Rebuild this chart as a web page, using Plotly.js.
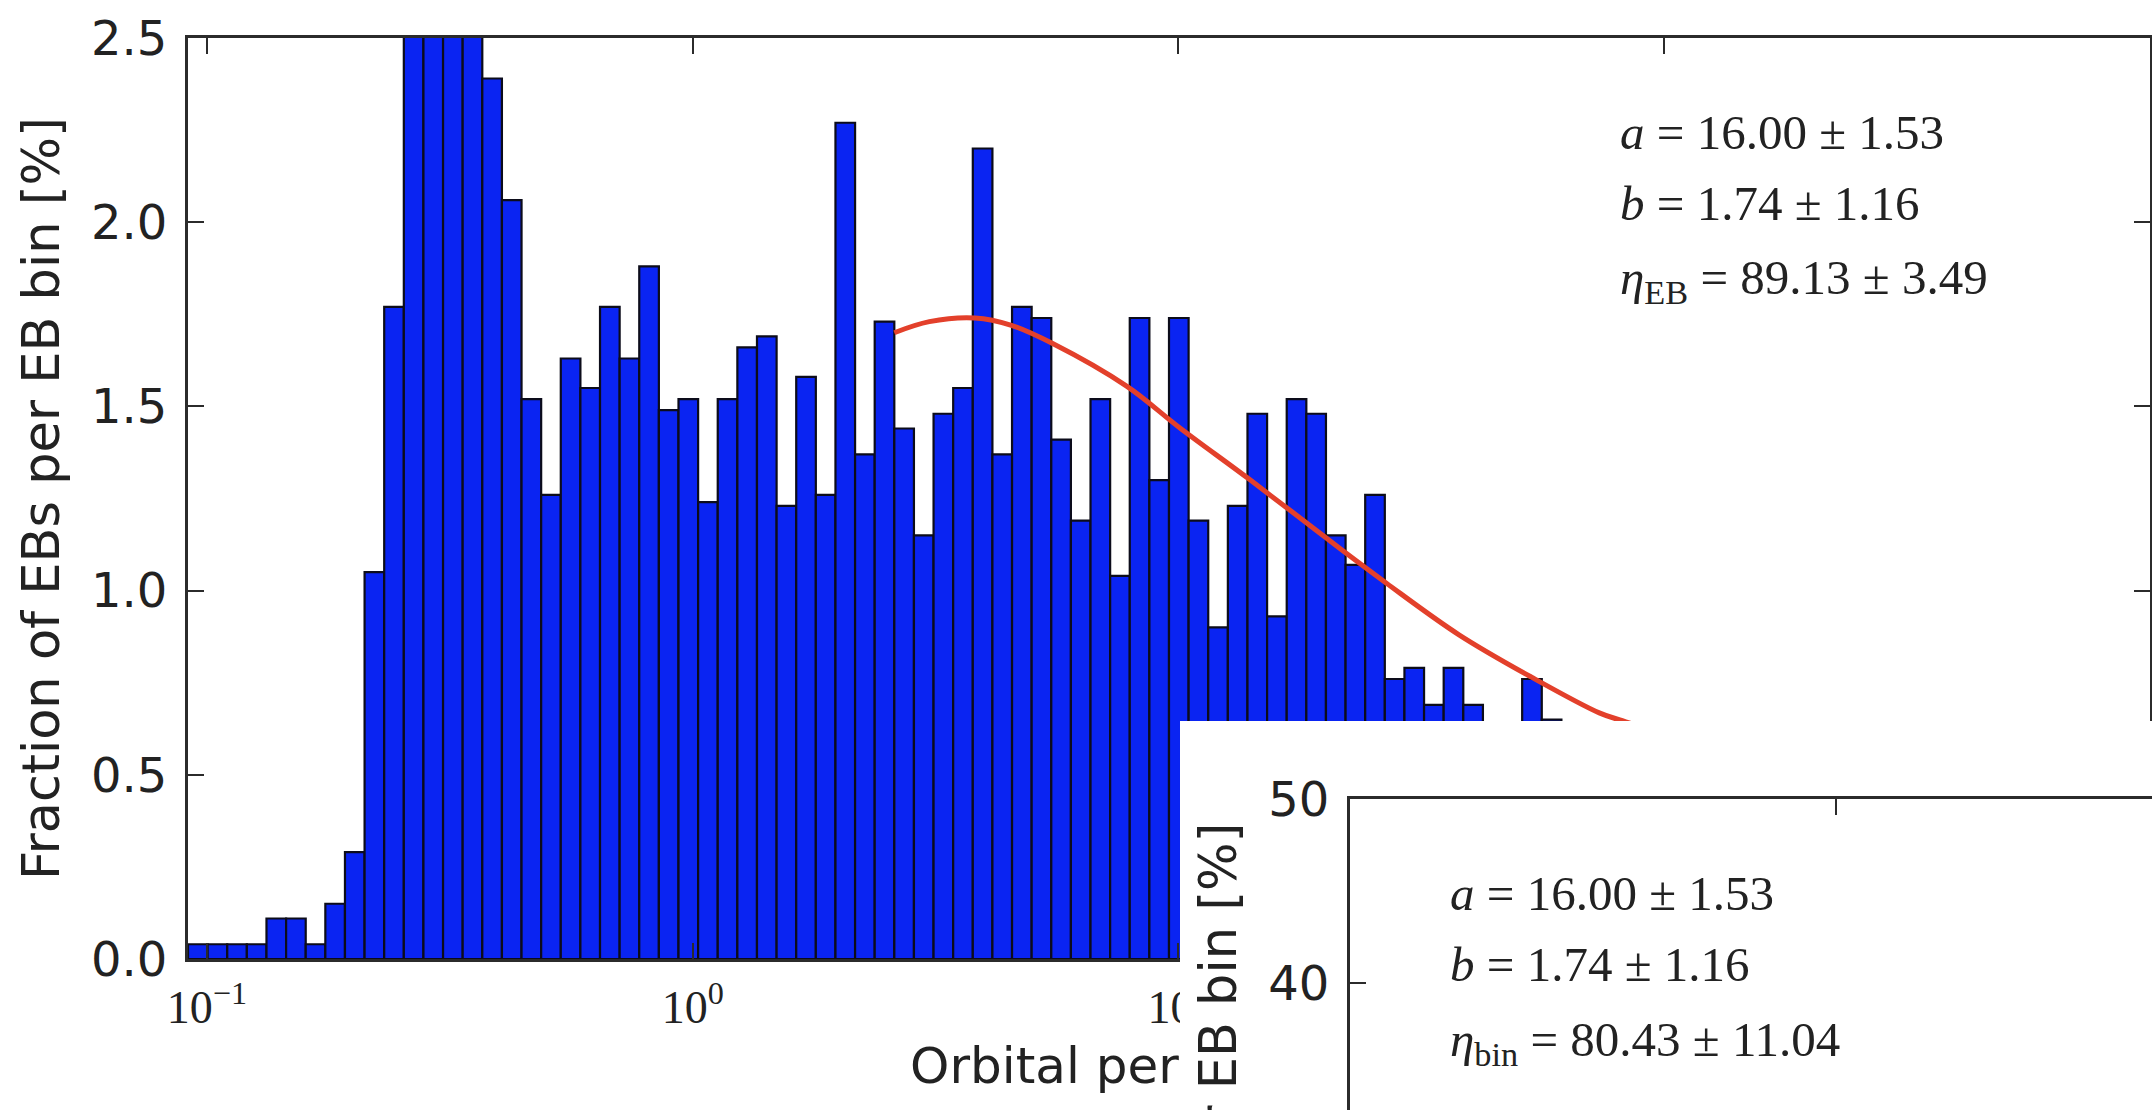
<!DOCTYPE html>
<html><head><meta charset="utf-8">
<script src="https://cdn.plot.ly/plotly-3.0.1.min.js"></script>
<style>
html,body{margin:0;padding:0;width:2152px;height:1110px;overflow:hidden;background:#fff;}
#main{position:absolute;left:0;top:0;width:2152px;height:1110px;}
#inset{position:absolute;left:1180px;top:721px;}
</style></head><body>
<div id="main"></div><div id="inset"></div>
<script>
// ---- data ----
const binCount = 100;
const periodMin = 0.0914;   // days
const periodMax = 1000;     // days
const fraction = [
  0.04, 0.04, 0.04, 0.04, 0.11, 0.11, 0.04, 0.15, 0.29, 1.05,
  1.77, 2.65, 2.75, 2.70, 2.60, 2.39, 2.06, 1.52, 1.26, 1.63,
  1.55, 1.77, 1.63, 1.88, 1.49, 1.52, 1.24, 1.52, 1.66, 1.69,
  1.23, 1.58, 1.26, 2.27, 1.37, 1.73, 1.44, 1.15, 1.48, 1.55,
  2.20, 1.37, 1.77, 1.74, 1.41, 1.19, 1.52, 1.04, 1.74, 1.30,
  1.74, 1.19, 0.90, 1.23, 1.48, 0.93, 1.52, 1.48, 1.15, 1.07,
  1.26, 0.76, 0.79, 0.69, 0.79, 0.69, 0.61, 0.57, 0.76, 0.65,
  0.46, 0.58, 0.38, 0.50, 0.31, 0.42, 0.27, 0.35, 0.23, 0.31,
  0.19, 0.23, 0.15, 0.19, 0.12, 0.15, 0.08, 0.12, 0.08, 0.04,
  0.08, 0.04, 0.04, 0.00, 0.04, 0.00, 0.04, 0.00, 0.00, 0.04
];
const fitPeriod   = [2.60, 3.07, 3.81, 4.53, 5.52, 7.82, 10.1, 14.06, 21.7, 26.8, 37.8, 53.3, 73.5, 81.0, 100, 130];
const fitFraction = [1.70, 1.73, 1.74, 1.72, 1.67, 1.555, 1.44, 1.30, 1.11, 1.02, 0.88, 0.765, 0.668, 0.649, 0.61, 0.55];
const xTickVals = [0.1, 1, 10, 100, 1000];
const xTickText = ['10<sup>\u22121</sup>', '10<sup>0</sup>', '10<sup>1</sup>', '10<sup>2</sup>', '10<sup>3</sup>'];
const mainYTicks = [0, 0.5, 1.0, 1.5, 2.0, 2.5];
const insetYTicks = [10, 20, 30, 40, 50];
const mainParams = ['<i>a</i> = 16.00 \u00b1 1.53', '<i>b</i> = 1.74 \u00b1 1.16', '<i>\u03b7</i><sub>EB</sub> = 89.13 \u00b1 3.49'];
const insetParams = ['<i>a</i> = 16.00 \u00b1 1.53', '<i>b</i> = 1.74 \u00b1 1.16', '<i>\u03b7</i><sub>bin</sub> = 80.43 \u00b1 11.04'];
const xTitle = 'Orbital period [days]';
const yTitle = 'Fraction of EBs per EB bin [%]';

// ---- bins (log-spaced) ----
const lmin = Math.log10(periodMin), lmax = Math.log10(periodMax);
const step = (lmax - lmin) / binCount;
const binMid = [], binW = [];
for (let i = 0; i < binCount; i++) {
  const e0 = Math.pow(10, lmin + i * step), e1 = Math.pow(10, lmin + (i + 1) * step);
  binMid.push((e0 + e1) / 2); binW.push(e1 - e0);
}

const INK = '#222222', AX = '#2b2b2b';
const sans = 'DejaVu Sans', serif = 'Liberation Serif';

function axisBase() {
  return {showline: true, linewidth: 3, linecolor: AX, mirror: 'ticks',
    ticks: 'inside', ticklen: 16, tickwidth: 2, tickcolor: AX,
    showgrid: false, zeroline: false};
}

const mainData = [
  {type: 'bar', x: binMid, y: fraction, width: binW,
   marker: {color: '#0a24f2', line: {color: '#0c0c1a', width: 2.2}}, hoverinfo: 'x+y'},
  {type: 'scatter', mode: 'lines', x: fitPeriod, y: fitFraction,
   line: {color: '#e3402b', width: 5, shape: 'spline', smoothing: 1}}
];
const mainLayout = {
  width: 2152, height: 1110, showlegend: false,
  paper_bgcolor: '#fff', plot_bgcolor: '#fff',
  margin: {l: 188, r: 2, t: 38, b: 151, autoexpand: false},
  xaxis: Object.assign(axisBase(), {type: 'log', range: [lmin, lmax],
    tickvals: xTickVals, ticktext: xTickText, automargin: true,
    tickfont: {family: serif, size: 46, color: INK}, ticklabelstandoff: 6,
    title: {text: xTitle, font: {family: sans, size: 50, color: INK}, standoff: 16}}),
  yaxis: Object.assign(axisBase(), {range: [0, 2.5], tickvals: mainYTicks, tickformat: '.1f',
    automargin: true, tickfont: {family: sans, size: 48, color: INK}, ticklabelstandoff: 8,
    title: {text: yTitle, font: {family: sans, size: 51, color: INK}, standoff: 16}}),
  annotations: mainParams.map((t, i) => ({text: t, xref: 'paper', yref: 'paper',
    x: 0.7288, y: [0.8969, 0.8208, 0.7372][i], xanchor: 'left', yanchor: 'middle', showarrow: false,
    font: {family: serif, size: 49, color: INK}}))
};
Plotly.newPlot('main', mainData, mainLayout, {staticPlot: true});

// ---- inset panel ----
const insetLayout = {
  width: 2154, height: 1038, showlegend: false,
  paper_bgcolor: '#fff', plot_bgcolor: '#fff',
  margin: {l: 170, r: 40, t: 78, b: 150, autoexpand: false},
  xaxis: Object.assign(axisBase(), {type: 'log', range: [-1, 3],
    tickvals: xTickVals, ticktext: xTickText, automargin: true,
    tickfont: {family: serif, size: 46, color: INK},
    title: {text: xTitle, font: {family: sans, size: 50, color: INK}, standoff: 16}}),
  yaxis: Object.assign(axisBase(), {range: [6, 50], tickvals: insetYTicks,
    automargin: true, tickfont: {family: sans, size: 48, color: INK}, ticklabelstandoff: 8,
    title: {text: yTitle, font: {family: sans, size: 51, color: INK}, standoff: 16}}),
  annotations: insetParams.map((t, i) => ({text: t, xref: 'paper', yref: 'paper',
    x: 0.0504, y: [0.883, 0.796, 0.700][i], xanchor: 'left', yanchor: 'middle', showarrow: false,
    font: {family: serif, size: 49, color: INK}}))
};
Plotly.newPlot('inset', [], insetLayout, {staticPlot: true});
</script>
</body></html>
